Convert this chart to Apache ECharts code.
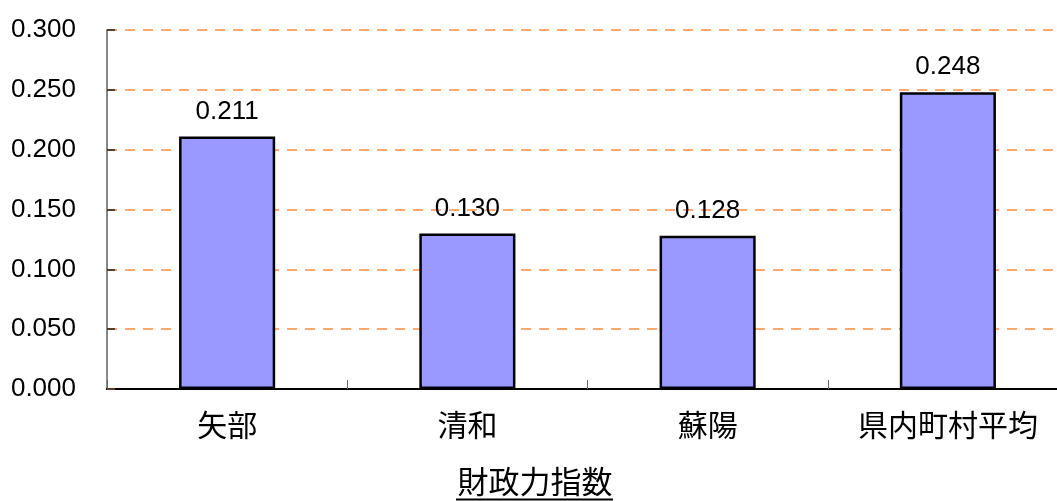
<!DOCTYPE html>
<html><head><meta charset="utf-8">
<script src="https://cdn.jsdelivr.net/npm/echarts@6/dist/echarts.min.js"></script>
<style>html,body{margin:0;padding:0;background:#fff;overflow:hidden;width:1057px;height:501px}#c{width:1080px;height:501px}</style>
</head><body><div id="c"></div>
<script>
const categories = ['矢部', '清和', '蘇陽', '県内町村平均'];
const values = [0.211, 0.130, 0.128, 0.248];
const yTicks = [0, 0.05, 0.1, 0.15, 0.2, 0.25, 0.3];
const titleText = '財政力指数';

const chart = echarts.init(document.getElementById('c'), null, {renderer: 'canvas'});
chart.setOption({
  animation: false,
  grid: {left: 107, top: 30, width: 961, bottom: 112, containLabel: false},
  xAxis: {
    type: 'category', data: categories,
    axisLine: {lineStyle: {color: '#000', width: 2}},
    axisTick: {show: true, inside: true, length: 9, lineStyle: {color: '#666'}},
    axisLabel: {color: '#000', fontSize: 30, margin: 21, fontFamily: 'Noto Sans CJK JP'}
  },
  yAxis: {
    type: 'value', min: 0, max: 0.3, interval: 0.05,
    axisLine: {show: true, lineStyle: {color: '#888', width: 2}},
    axisTick: {show: true, inside: true, length: 8, lineStyle: {color: '#5a3a2a', width: 2}},
    axisLabel: {color: '#000', fontSize: 26, margin: 31, fontFamily: 'Liberation Sans',
      formatter: v => v.toFixed(3)},
    splitLine: {show: true, lineStyle: {color: '#ff8a3d', type: [10, 8], width: 1.5}}
  },
  series: [{
    type: 'bar', data: values, barWidth: '40%',
    itemStyle: {color: '#9999ff', borderColor: '#000', borderWidth: 2.5},
    label: {show: true, position: 'top', distance: 12, color: '#000', fontSize: 26,
      fontFamily: 'Liberation Sans', formatter: p => p.value.toFixed(3)}
  }],
  graphic: [
    {type: 'text', x: 535, y: 466,
      style: {text: titleText, fontSize: 31, fill: '#000', fontFamily: 'Noto Sans CJK JP', textAlign: 'center'}},
    {type: 'line', shape: {x1: 456, y1: 499.5, x2: 613, y2: 499.5},
      style: {stroke: '#000', lineWidth: 2}}
  ]
});
</script></body></html>
